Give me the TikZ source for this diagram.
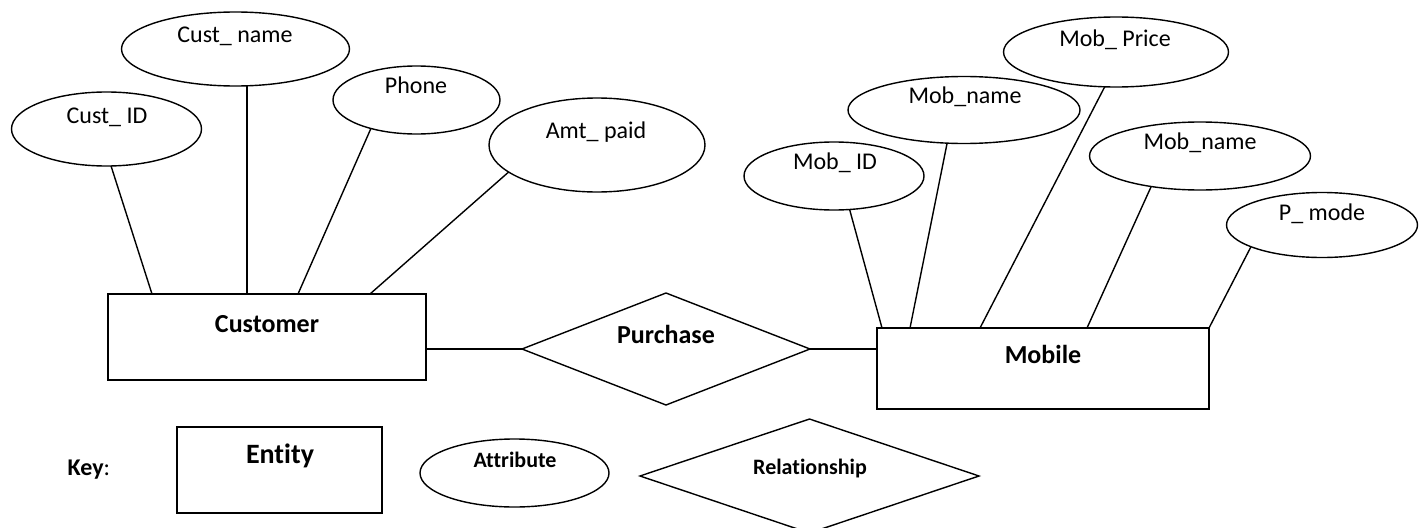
\documentclass[tikz,border=0pt]{standalone}
\usepackage{fontspec}
\setmainfont[Ligatures=NoCommon]{Carlito}
\usetikzlibrary{shapes.geometric,calc}
\begin{document}
\begin{tikzpicture}[x=1pt,y=-1pt,line width=1.4pt,
  attr/.style={draw, ellipse, inner sep=0pt, outer sep=0pt},
  ent/.style={draw, rectangle, inner sep=0pt, outer sep=0pt},
  rel/.style={draw, diamond, inner sep=0pt, outer sep=0pt},
  atxt/.style={anchor=base, inner sep=0pt, font=\fontsize{24}{28}\selectfont},
  etxt/.style={anchor=base, inner sep=0pt, font=\fontsize{26}{30}\selectfont\bfseries},
  ktxt/.style={anchor=base, inner sep=0pt, font=\fontsize{22}{26}\selectfont\bfseries}]
\useasboundingbox (0,0) rectangle (1420,527);

% attributes of Customer
\node[attr, minimum width=190pt, minimum height=74pt] (cid) at (106.5,129) {};
\node[atxt] (tcid) at (107,123) {Cust\_ ID};
\node[attr, minimum width=228pt, minimum height=74pt] (cname) at (235.5,49) {};
\node[atxt] (tcname) at (235,43) {Cust\_ name};
\node[attr, minimum width=167pt, minimum height=68pt] (phone) at (416.5,100) {};
\node[atxt] (tphone) at (416,93) {Phone};
\node[attr, minimum width=216pt, minimum height=94pt] (amt) at (597,145) {};
\node[atxt] (tamt) at (596,138) {Amt\_ paid};

% Customer entity
\node[ent, minimum width=318pt, minimum height=86pt] (cust) at (267,337) {};
\node[etxt] (tcust) at (267,332) {Customer};

% relationship
\node[rel, minimum width=288pt, minimum height=112pt] (purch) at (666,349) {};
\node[etxt] (tpurch) at (666,343) {Purchase};

% Mobile entity
\node[ent, minimum width=332pt, minimum height=81pt] (mob) at (1043,368.5) {};
\node[etxt] (tmob) at (1043,363) {Mobile};

% attributes of Mobile
\node[attr, minimum width=180pt, minimum height=68pt] (mobid) at (834,176) {};
\node[atxt] (tmobid) at (835,169) {Mob\_ ID};
\node[attr, minimum width=232pt, minimum height=67pt] (mobn1) at (964,110) {};
\node[atxt] (tmobn1) at (965,103) {Mob\_name};
\node[attr, minimum width=225pt, minimum height=70pt] (mobp) at (1116,52) {};
\node[atxt] (tmobp) at (1115,46) {Mob\_ Price};
\node[attr, minimum width=221pt, minimum height=68pt] (mobn2) at (1200,156) {};
\node[atxt] (tmobn2) at (1200,149) {Mob\_name};
\node[attr, minimum width=191pt, minimum height=65pt] (pmode) at (1322,225) {};
\node[atxt] (tpmode) at (1322,220) {P\_ mode};

% connector end points on entity tops
\coordinate (c1) at ($(cust.north west)+(44,0)$);
\coordinate (c2) at ($(cust.north west)+(139,0)$);
\coordinate (c3) at ($(cust.north west)+(190,0)$);
\coordinate (c4) at ($(cust.north west)+(262,0)$);
\coordinate (m1) at ($(mob.north west)+(5,0)$);
\coordinate (m2) at ($(mob.north west)+(33,0)$);
\coordinate (m3) at ($(mob.north west)+(103,0)$);
\coordinate (m4) at ($(mob.north west)+(210,0)$);

\draw (cid.277) -- (c1);
\draw (c2 |- cname.south) -- (c2);
\draw (phone.212) -- (c3);
\draw (amt.197) -- (c4);
\draw (mobid.295) -- (m1);
\draw (mobn1.243) -- (m2);
\draw (mobp.252) -- (m3);
\draw (mobn2.212) -- (m4);
\draw (pmode.197) -- (mob.north east);

\draw (purch.west) -- (purch.west -| cust.east);
\draw (purch.east) -- (purch.east -| mob.west);

% key
\node[anchor=base west, inner sep=0pt, font=\fontsize{24}{28}\selectfont] (keylbl) at (67,475) {\textbf{Key}:};
\node[ent, minimum width=205pt, minimum height=86pt] (kent) at (279.5,470) {};
\node[anchor=base, inner sep=0pt, font=\fontsize{28}{32}\selectfont\bfseries] (tkent) at (280,463) {Entity};
\node[attr, minimum width=189pt, minimum height=68pt] (kattr) at (514.5,473) {};
\node[ktxt] (tkattr) at (515,467) {Attribute};
\node[rel, minimum width=339pt, minimum height=114pt] (krel) at (809.5,476) {};
\node[ktxt] (tkrel) at (810,474) {Relationship};
\end{tikzpicture}
\end{document}
